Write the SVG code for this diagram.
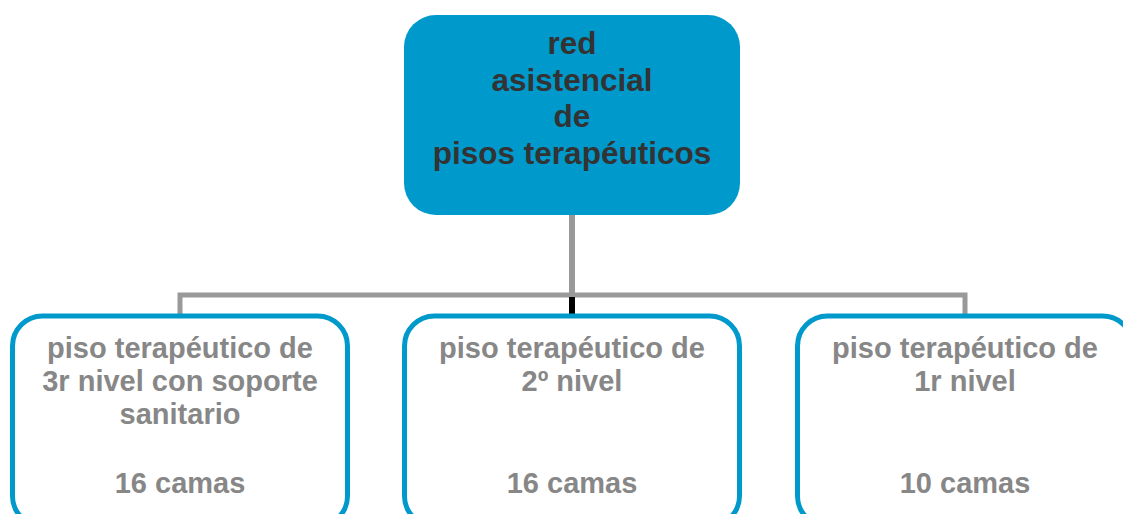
<svg xmlns="http://www.w3.org/2000/svg" width="1123" height="514" viewBox="0 0 1123 514">
<style>
.top{fill:#0099CC;}
.child{fill:#FFFFFF;stroke:#0099CC;stroke-width:5;}
.t1{font-family:"Liberation Sans",Arial,sans-serif;font-weight:bold;font-size:31.5px;fill:#333333;text-anchor:middle;}
.t2{font-family:"Liberation Sans",Arial,sans-serif;font-weight:bold;font-size:29px;fill:#878787;text-anchor:middle;}
.conn{stroke:#999999;fill:none;}
</style>
<rect width="1123" height="514" fill="#FFFFFF"/>
<g id="connectors">
<line class="conn" x1="572" y1="214" x2="572" y2="295" stroke-width="6"/>
<polyline class="conn" points="180,316 180,295 965,295 965,316" stroke-width="5"/>
<line x1="572" y1="297" x2="572" y2="316" stroke="#000000" stroke-width="6"/>
</g>
<g id="node-root">
<rect class="top" x="404" y="15" width="336" height="200" rx="32" ry="32"/>
<text class="t1" x="572" y="54">red</text>
<text class="t1" x="572" y="91">asistencial</text>
<text class="t1" x="572" y="127">de</text>
<text class="t1" x="572" y="164">pisos terapéuticos</text>
</g>
<g id="node-3r">
<rect class="child" x="12.5" y="316" width="335" height="210" rx="30" ry="30"/>
<text class="t2" x="180" y="358">piso terapéutico de</text>
<text class="t2" x="180" y="391">3r nivel con soporte</text>
<text class="t2" x="180" y="424">sanitario</text>
<text class="t2" x="180" y="493">16 camas</text>
</g>
<g id="node-2">
<rect class="child" x="404.5" y="316" width="335" height="210" rx="30" ry="30"/>
<text class="t2" x="572" y="358">piso terapéutico de</text>
<text class="t2" x="572" y="391">2º nivel</text>
<text class="t2" x="572" y="493">16 camas</text>
</g>
<g id="node-1r">
<rect class="child" x="797.5" y="316" width="335" height="210" rx="30" ry="30"/>
<text class="t2" x="965" y="358">piso terapéutico de</text>
<text class="t2" x="965" y="391">1r nivel</text>
<text class="t2" x="965" y="493">10 camas</text>
</g>
</svg>
